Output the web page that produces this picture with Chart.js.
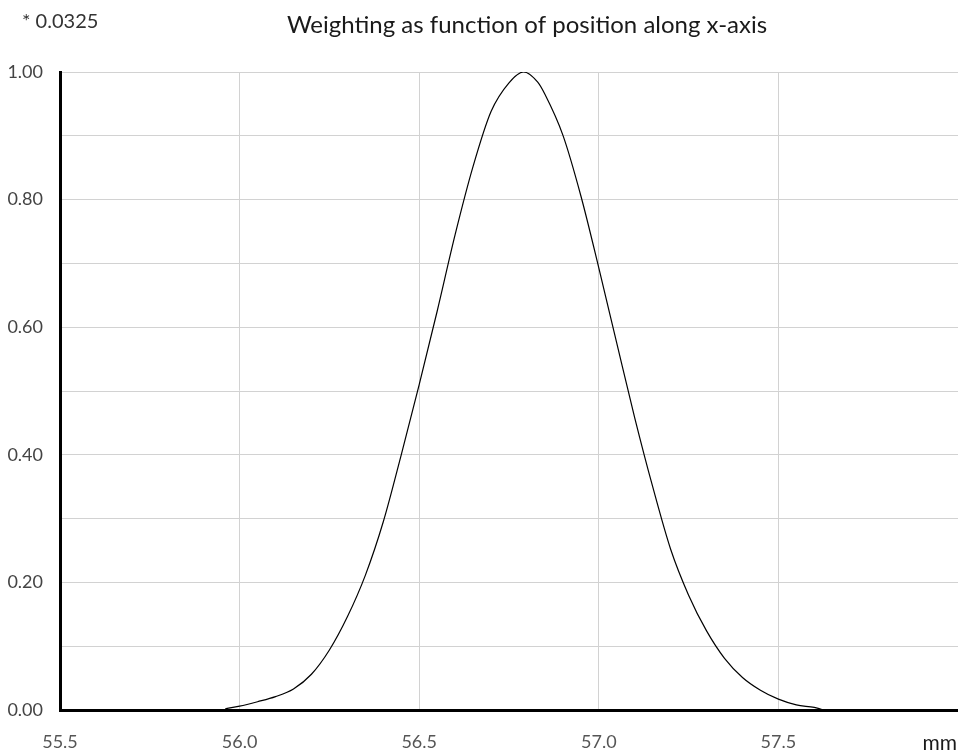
<!DOCTYPE html>
<html>
<head>
<meta charset="utf-8">
<script src="https://cdn.jsdelivr.net/npm/chart.js@4.4.1/dist/chart.umd.min.js"></script>
<style>
  html, body { margin: 0; padding: 0; background: #fff; }
  #wrap { width: 958px; height: 756px; }
</style>
</head>
<body>
<div id="wrap"><canvas id="weightChart" width="958" height="756"></canvas></div>
<script>
// position along x-axis (mm) and weighting
const positions = [
  55.96, 56.00, 56.05, 56.10, 56.15, 56.20, 56.25, 56.30, 56.35, 56.40,
  56.45, 56.50, 56.55, 56.60, 56.65, 56.70, 56.75, 56.79, 56.83, 56.85,
  56.90, 56.95, 57.00, 57.05, 57.10, 57.15, 57.20, 57.25, 57.30, 57.35,
  57.40, 57.45, 57.50, 57.55, 57.60, 57.62
];
const weights = [
  0.002, 0.006, 0.013, 0.021, 0.033, 0.056, 0.094, 0.146, 0.211, 0.295,
  0.400, 0.510, 0.625, 0.745, 0.852, 0.938, 0.983, 1.000, 0.984, 0.965,
  0.901, 0.806, 0.693, 0.575, 0.458, 0.350, 0.252, 0.180, 0.124, 0.081,
  0.051, 0.031, 0.017, 0.008, 0.004, 0.001
];
const xTickLabels = ["55.5", "56.0", "56.5", "57.0", "57.5"];
const yTickLabels = ["0.00", "0.20", "0.40", "0.60", "0.80", "1.00"];
const chartTitle = "Weighting as function of position along x-axis";
const scaleNote = "* 0.0325";
const xUnit = "mm";

const FONT = "Lato, 'Open Sans', sans-serif";

const points = positions.map((x, i) => ({ x: x, y: weights[i] }));

// title, scale factor and unit are drawn by hand so they sit where the original has them
const textPlugin = {
  id: "texts",
  afterDraw(chart) {
    const ctx = chart.ctx;
    ctx.save();
    ctx.textBaseline = "alphabetic";
    ctx.fillStyle = "#333";
    ctx.font = "20px " + FONT;
    ctx.textAlign = "left";
    ctx.fillText(scaleNote, 22, 28);

    ctx.fillStyle = "#1a1a1a";
    ctx.font = "24px " + FONT;
    ctx.textAlign = "center";
    ctx.fillText(chartTitle, 527, 33);

    ctx.font = "21px " + FONT;
    ctx.textAlign = "right";
    ctx.fillText(xUnit, 957, 750);
    ctx.restore();
  }
};

new Chart(document.getElementById("weightChart"), {
  type: "line",
  data: {
    datasets: [{
      data: points,
      borderColor: "#000",
      borderWidth: 1.2,
      pointRadius: 0,
      cubicInterpolationMode: "monotone",
      fill: false
    }]
  },
  options: {
    responsive: false,
    animation: false,
    layout: { padding: { top: 72, right: 0, left: 0, bottom: 0 } },
    plugins: {
      legend: { display: false },
      title: { display: false },
      tooltip: { enabled: false }
    },
    scales: {
      x: {
        type: "linear",
        min: 55.5,
        max: 58.0,
        afterFit(scale) {
          scale.height = 46;
          scale.paddingRight = 0;
          scale.paddingLeft = 0;
        },
        afterBuildTicks(scale) {
          scale.ticks = [55.5, 56.0, 56.5, 57.0, 57.5, 58.0].map(v => ({ value: v }));
        },
        ticks: {
          callback(v, i) { return xTickLabels[i] || ""; },
          color: "#555",
          font: { family: FONT, size: 18 },
          padding: 21,
          maxRotation: 0,
          autoSkip: false
        },
        grid: {
          color(c) { return c.tick && c.tick.value >= 58 ? "rgba(0,0,0,0)" : "#d2d2d2"; },
          lineWidth: 1,
          drawTicks: false
        },
        border: { color: "#000", width: 3 }
      },
      y: {
        min: 0,
        max: 1,
        afterFit(scale) { scale.width = 60; },
        ticks: {
          stepSize: 0.1,
          callback(v) {
            const k = Math.round(v * 10);
            return k % 2 === 0 ? yTickLabels[k / 2] : "";
          },
          color: "#444",
          font: { family: FONT, size: 18 },
          padding: 17,
          autoSkip: false
        },
        grid: { color: "#d2d2d2", lineWidth: 1, drawTicks: false },
        border: { color: "#000", width: 3 }
      }
    }
  },
  plugins: [textPlugin]
});
</script>
</body>
</html>
